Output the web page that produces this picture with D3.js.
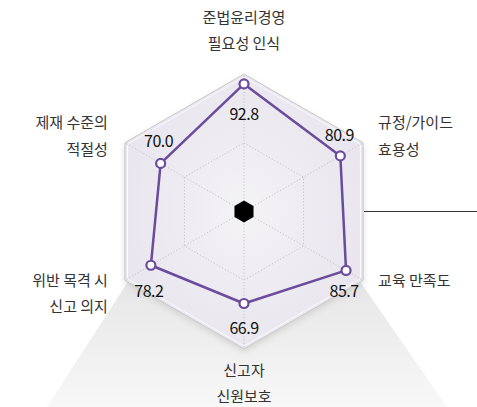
<!DOCTYPE html>
<html>
<head>
<meta charset="UTF-8">
<title>Radar</title>
<style>
  body { margin: 0; background: #fff; }
  svg { display: block; }
  .axis-label { font: 15px "Noto Sans CJK KR", sans-serif; fill: #333; }
  .value-label { font: 16px "Noto Sans CJK KR", sans-serif; fill: #111; letter-spacing: -0.5px; }
</style>
<script src="https://cdn.jsdelivr.net/npm/d3@7"></script>
</head>
<body>
<script>
// axis names (two-line labels) and scores
var categories = [
  ["준법윤리경영", "필요성 인식"],
  ["규정/가이드", "효용성"],
  ["교육 만족도"],
  ["신고자", "신원보호"],
  ["위반 목격 시", "신고 의지"],
  ["제재 수준의", "적절성"]
];
var values = [92.8, 80.9, 85.7, 66.9, 78.2, 70.0];
var rings = [50, 100];

var width = 477, height = 407,
    cx = 244, cy = 211.5, R = 137.5,
    purple = "#6a4b9c";

var svg = d3.select("body").append("svg")
    .attr("width", width)
    .attr("height", height);

var defs = svg.append("defs");

var rg = defs.append("radialGradient").attr("id", "hexFill");
rg.append("stop").attr("offset", "0%").attr("stop-color", "#f4f3f5");
rg.append("stop").attr("offset", "100%").attr("stop-color", "#e9e6ef");

var sg = defs.append("linearGradient").attr("id", "shadowFill")
    .attr("x1", 0).attr("y1", 0).attr("x2", 0).attr("y2", 1);
sg.append("stop").attr("offset", "0%").attr("stop-color", "#e6e6e6");
sg.append("stop").attr("offset", "100%").attr("stop-color", "#f8f8f8");

var blur = defs.append("filter").attr("id", "soft")
    .attr("x", "-20%").attr("y", "-20%").attr("width", "140%").attr("height", "140%");
blur.append("feGaussianBlur").attr("stdDeviation", 3);

var r = d3.scaleLinear().domain([0, 100]).range([0, R]);
var angle = d3.scaleLinear().domain([0, categories.length]).range([0, 2 * Math.PI]);

function pt(i, v) {
    var a = angle(i);
    return [cx + r(v) * Math.sin(a), cy - r(v) * Math.cos(a)];
}

function hexPath(v) {
    return d3.line()(d3.range(categories.length).map(function(i) { return pt(i, v); })) + "Z";
}

// floor shadow under the hexagon
var lowL = pt(4, 100), lowR = pt(2, 100);
svg.append("path")
    .attr("d", d3.line()([[lowL[0] + 4, lowL[1]], [lowR[0] - 4, lowR[1]],
        [lowR[0] + 84, height], [lowL[0] - 78, height]]) + "Z")
    .attr("fill", "url(#shadowFill)");

// soft drop shadow
svg.append("path")
    .attr("d", hexPath(100))
    .attr("transform", "translate(0,3)")
    .attr("fill", "#c8c8c8")
    .attr("opacity", 0.7)
    .attr("filter", "url(#soft)");

// hexagon body
svg.append("path")
    .attr("d", hexPath(100))
    .attr("fill", "url(#hexFill)")
    .attr("stroke", "#cacaca")
    .attr("stroke-width", 1);

svg.append("path")
    .attr("d", hexPath(97.8))
    .attr("fill", "none")
    .attr("stroke", "#fbfbfd")
    .attr("stroke-width", 1);

// grid rings and spokes
svg.selectAll(".ring")
    .data(rings.slice(0, -1))
    .enter().append("path")
    .attr("class", "ring")
    .attr("d", function(d) { return hexPath(d); })
    .attr("fill", "none")
    .attr("stroke", "#c4c4c4")
    .attr("stroke-dasharray", "1.2,2");

svg.selectAll(".spoke")
    .data(categories)
    .enter().append("line")
    .attr("class", "spoke")
    .attr("x1", cx).attr("y1", cy)
    .attr("x2", function(d, i) { return pt(i, 100)[0]; })
    .attr("y2", function(d, i) { return pt(i, 100)[1]; })
    .attr("stroke", "#c4c4c4")
    .attr("stroke-dasharray", "1.2,2");

// stray connector line on the right
svg.append("line")
    .attr("x1", pt(1, 100)[0] + 1).attr("x2", width)
    .attr("y1", cy).attr("y2", cy)
    .attr("stroke", "#333")
    .attr("stroke-width", 1);

// center marker
svg.append("path")
    .attr("d", d3.line()(d3.range(6).map(function(i) {
        var a = i * Math.PI / 3;
        return [cx + 11 * Math.sin(a), cy - 11 * Math.cos(a)];
    })) + "Z")
    .attr("fill", "#000");

// data polygon
var dataPts = values.map(function(v, i) { return pt(i, v); });
svg.append("path")
    .attr("d", d3.line()(dataPts) + "Z")
    .attr("fill", "none")
    .attr("stroke", purple)
    .attr("stroke-width", 2.5)
    .attr("stroke-linejoin", "round");

svg.selectAll(".dot")
    .data(dataPts)
    .enter().append("circle")
    .attr("class", "dot")
    .attr("cx", function(d) { return d[0]; })
    .attr("cy", function(d) { return d[1]; })
    .attr("r", 4.5)
    .attr("fill", "#fff")
    .attr("stroke", purple)
    .attr("stroke-width", 2.2);

// value labels: offset from the point (dx, baseline dy)
var valOffset = [[0, 36], [-1, -15], [-2, 27], [0, 31], [-2, 32], [-2, -16]];
svg.selectAll(".value-label")
    .data(values)
    .enter().append("text")
    .attr("class", "value-label")
    .attr("text-anchor", "middle")
    .attr("x", function(d, i) { return dataPts[i][0] + valOffset[i][0]; })
    .attr("y", function(d, i) { return dataPts[i][1] + valOffset[i][1]; })
    .text(function(d) { return d.toFixed(1); });

// axis labels: anchor, offset from outer vertex to first line's centre
var labPos = [
    ["middle", 0, -57],
    ["start", 15, -20],
    ["start", 15, 0],
    ["middle", 0, 21],
    ["end", -17, 0],
    ["end", -17, -20]
];
var lineGap = 26.5;
categories.forEach(function(lines, i) {
    var v = pt(i, 100), p = labPos[i];
    var t = svg.append("text")
        .attr("class", "axis-label")
        .attr("text-anchor", p[0]);
    lines.forEach(function(s, k) {
        t.append("tspan")
            .attr("x", v[0] + p[1])
            .attr("y", v[1] + p[2] + k * lineGap + 5.5)
            .text(s);
    });
});
</script>
</body>
</html>
